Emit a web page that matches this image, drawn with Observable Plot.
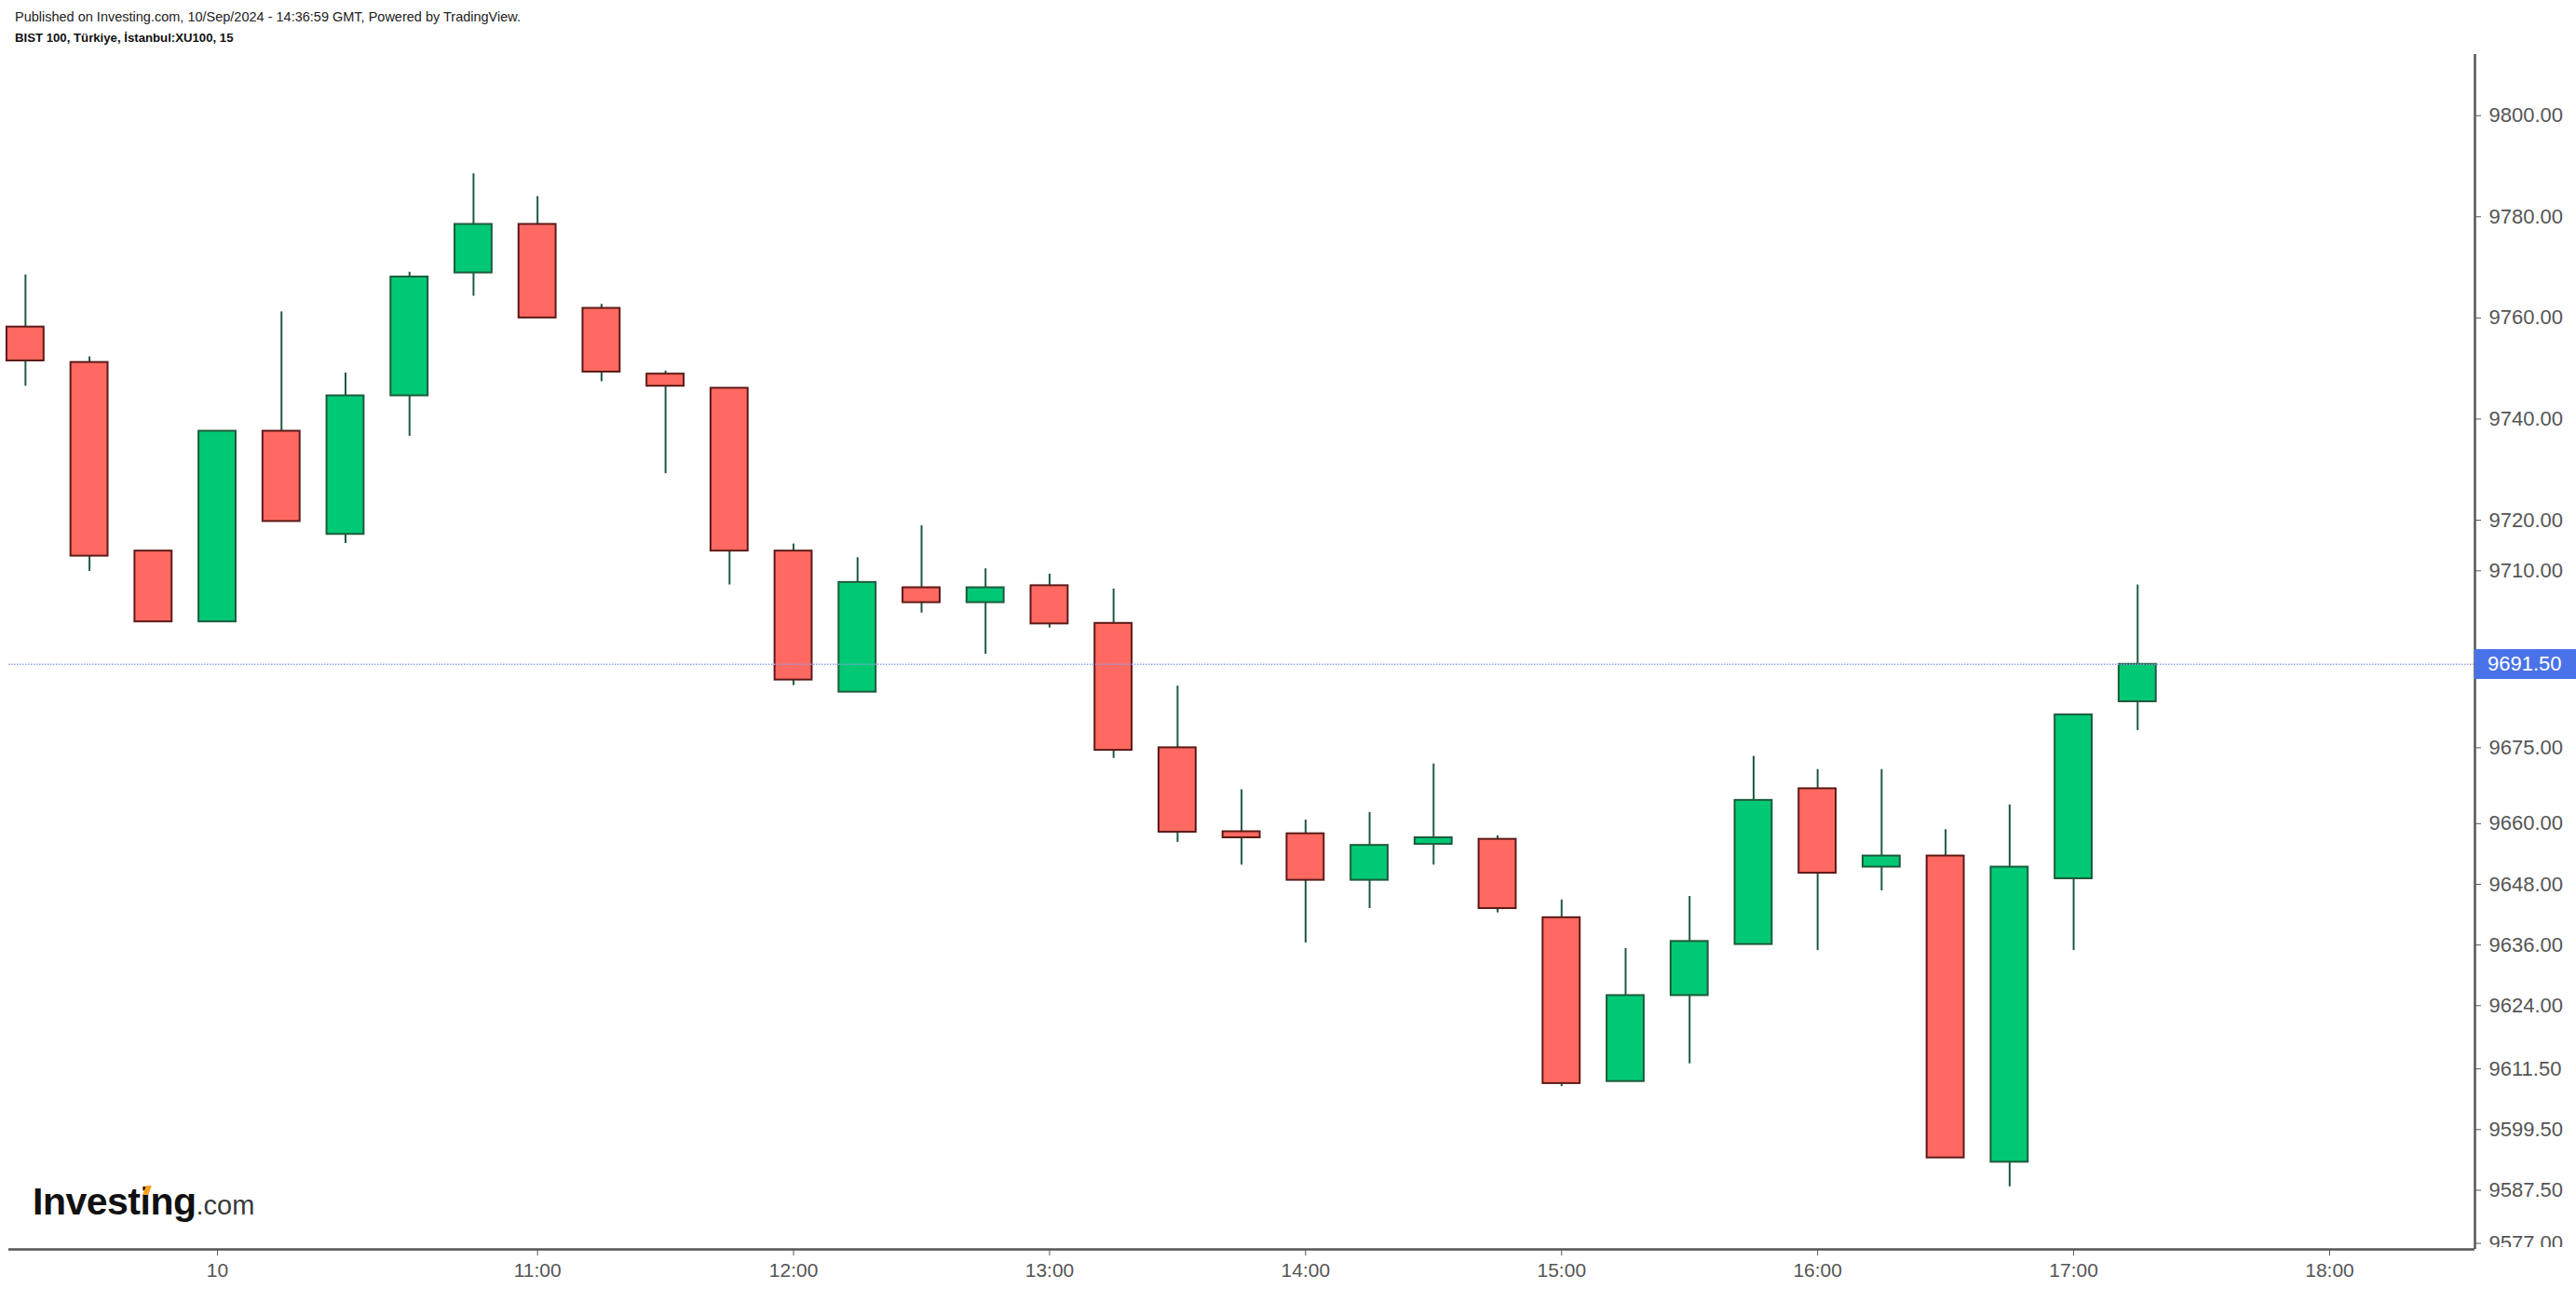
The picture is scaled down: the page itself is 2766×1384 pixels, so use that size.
<!DOCTYPE html>
<html>
<head>
<meta charset="utf-8">
<script src="https://cdn.jsdelivr.net/npm/d3@7"></script>
<script src="https://cdn.jsdelivr.net/npm/@observablehq/plot@0.6"></script>
<style>
  html, body { margin: 0; padding: 0; background: #fff; overflow: hidden; }
  #wrap { position: relative; width: 2766px; height: 1384px; font-family: "Liberation Sans", Arial, sans-serif; }
  #hdr { position: relative; height: 52px; }
  #hdr .l1 { position: absolute; left: 16px; top: 10px; font-size: 14.5px; line-height: 16px; color: #222; white-space: nowrap; }
  #hdr .l2 { position: absolute; left: 16px; top: 33px; font-size: 13.2px; line-height: 16px; font-weight: bold; color: #111; white-space: nowrap; }
  #chart svg { display: block; }
  .overlay { position: absolute; }
  #logo { left: 35px; top: 1270px; font-size: 41px; line-height: 41px; font-weight: bold; color: #111; letter-spacing: -0.5px; white-space: nowrap; }
  #logo .com { font-size: 29px; font-weight: normal; color: #3a3a3a; letter-spacing: 0; }
  #logo .spark { position: absolute; width: 6px; height: 10px; background: #f7a21b; transform: skewX(-20deg); }
  #pricelbl { background: #4a72e8; color: #fff; font-size: 22px; box-sizing: border-box; padding-left: 14px; white-space: nowrap; }
</style>
</head>
<body>
<div id="wrap">
  <div id="hdr">
    <div class="l1">Published on Investing.com, 10/Sep/2024 - 14:36:59 GMT, Powered by TradingView.</div>
    <div class="l2">BIST 100, Türkiye, İstanbul:XU100, 15</div>
  </div>
  <div id="chart"></div>
</div>
<script>
// ---- data (15-minute bars, BIST 100) ----
const times = ["09/09 17:30","09/09 17:45","09/09 18:00","09:45","10:00","10:15","10:30","10:45","11:00","11:15","11:30","11:45",
  "12:00","12:15","12:30","12:45","13:00","13:15","13:30","13:45","14:00","14:15","14:30","14:45",
  "15:00","15:15","15:30","15:45","16:00","16:15","16:30","16:45","17:00","17:15"];
const open  = [9758.2, 9751.2, 9713.9, 9699.9, 9737.6, 9717.2, 9744.6, 9768.9, 9778.5, 9761.9, 9748.9, 9746.1,
  9713.9, 9686.0, 9706.65, 9703.7, 9707.05, 9699.6, 9675.0, 9658.4, 9658.0, 9648.8, 9655.9, 9656.9,
  9641.4, 9609.0, 9626.0, 9636.1, 9666.9, 9651.4, 9653.6, 9593.05, 9649.1, 9684.1];
const high  = [9768.5, 9752.3, 9713.9, 9737.6, 9761.2, 9749.1, 9769.05, 9788.5, 9784.0, 9762.7, 9749.5, 9746.1,
  9715.3, 9712.6, 9718.9, 9710.4, 9709.35, 9706.4, 9687.2, 9666.7, 9660.7, 9662.2, 9671.8, 9657.6,
  9644.9, 9635.3, 9645.6, 9673.3, 9670.7, 9670.7, 9658.8, 9663.7, 9681.5, 9707.2];
const low   = [9746.5, 9709.9, 9699.9, 9699.9, 9719.75, 9715.4, 9736.6, 9764.3, 9760.0, 9747.4, 9729.2, 9707.2,
  9687.3, 9686.0, 9701.65, 9693.5, 9698.7, 9672.9, 9656.3, 9651.8, 9636.4, 9643.2, 9651.8, 9642.35,
  9608.0, 9609.0, 9612.5, 9636.1, 9634.9, 9646.7, 9593.9, 9588.2, 9634.9, 9678.4];
const close = [9751.5, 9712.9, 9699.9, 9737.6, 9719.75, 9744.6, 9768.1, 9778.5, 9760.0, 9749.3, 9746.5, 9713.9,
  9688.4, 9707.7, 9703.7, 9706.65, 9699.5, 9674.5, 9658.3, 9657.2, 9648.8, 9655.7, 9657.2, 9643.2,
  9608.6, 9626.0, 9636.7, 9664.6, 9650.2, 9653.6, 9593.9, 9651.4, 9681.5, 9691.5];
const lastPrice = 9691.5;
const yTicks = [9800, 9780, 9760, 9740, 9720, 9710, 9675, 9660, 9648, 9636, 9624, 9611.5, 9599.5, 9587.5, 9577];
const xTickBars = [3, 8, 12, 16, 20, 24, 28, 32, 36];
const xTickLabels = ["10", "11:00", "12:00", "13:00", "14:00", "15:00", "16:00", "17:00", "18:00"];

// ---- scales / styling ----
const xDomain = [-0.26, 38.27];
const yDomain = [9575.8, 9812.1];
const halfW = 0.29;
const upFill = "#00c875", upEdge = "#1e5b3b";
const dnFill = "#ff6961", dnEdge = "#5c1a17";
const wickColor = "#1e5b3b";

const bars = times.map((t, i) => ({i, t, o: open[i], h: high[i], l: low[i], c: close[i], up: close[i] >= open[i]}));

const chart = Plot.plot({
  width: 2766,
  height: 1332,
  marginTop: 6,
  marginBottom: 43,
  marginLeft: 9,
  marginRight: 109,
  style: {fontFamily: "'Liberation Sans', Arial, sans-serif", fontSize: "22px", color: "#555", background: "#fff", overflow: "visible"},
  x: {type: "linear", domain: xDomain, axis: null},
  y: {type: "linear", domain: yDomain, axis: null},
  color: {type: "identity"},
  marks: [
    Plot.ruleX(bars, {x: "i", y1: "l", y2: "h", stroke: wickColor, strokeWidth: 2}),
    Plot.rect(bars, {
      x1: d => d.i - halfW, x2: d => d.i + halfW, y1: "o", y2: "c",
      fill: d => d.up ? upFill : dnFill,
      stroke: d => d.up ? upEdge : dnEdge,
      strokeWidth: 2
    }),
    Plot.ruleY([lastPrice], {stroke: "#8fa4ee", strokeWidth: 1.5, strokeDasharray: "1.5,1.5"}),
    Plot.ruleY([yDomain[0]], {stroke: "#555", strokeWidth: 2.5}),
    Plot.ruleX([xDomain[1]], {stroke: "#555", strokeWidth: 2.5}),
    Plot.axisY({anchor: "right", ticks: yTicks, tickFormat: d => d.toFixed(2), tickSize: 6, tickPadding: 9, fontSize: 22, stroke: "#555", fill: "#555"}),
    Plot.axisX({anchor: "bottom", ticks: xTickBars, tickFormat: d => xTickLabels[xTickBars.indexOf(d)], tickSize: 7, tickPadding: 8, fontSize: 21, stroke: "#555", fill: "#555"})
  ]
});
document.getElementById("chart").appendChild(chart);

const wrap = document.getElementById("wrap");
const svgTop = 52;
const yScale = chart.scale("y");
const xScale = chart.scale("x");
const axisX = xScale.apply(xDomain[1]);

// clip the bottom tick label below the pane
const cover = document.createElement("div");
cover.className = "overlay";
Object.assign(cover.style, {left: (axisX + 2) + "px", top: (svgTop + yScale.apply(yDomain[0]) - 2) + "px", width: "120px", height: "60px", background: "#fff"});
wrap.appendChild(cover);

// last price label
const py = svgTop + yScale.apply(lastPrice);
const lbl = document.createElement("div");
lbl.id = "pricelbl";
lbl.className = "overlay";
Object.assign(lbl.style, {left: axisX + "px", top: (py - 16) + "px", width: (2766 - axisX) + "px", height: "32px", lineHeight: "32px"});
lbl.textContent = lastPrice.toFixed(2);
wrap.appendChild(lbl);

// Investing.com logo
const logo = document.createElement("div");
logo.id = "logo";
logo.className = "overlay";
logo.innerHTML = 'Investing<span class="com">.com</span><span class="spark" style="left:120px;top:3px"></span>';
wrap.appendChild(logo);
</script>
</body>
</html>
